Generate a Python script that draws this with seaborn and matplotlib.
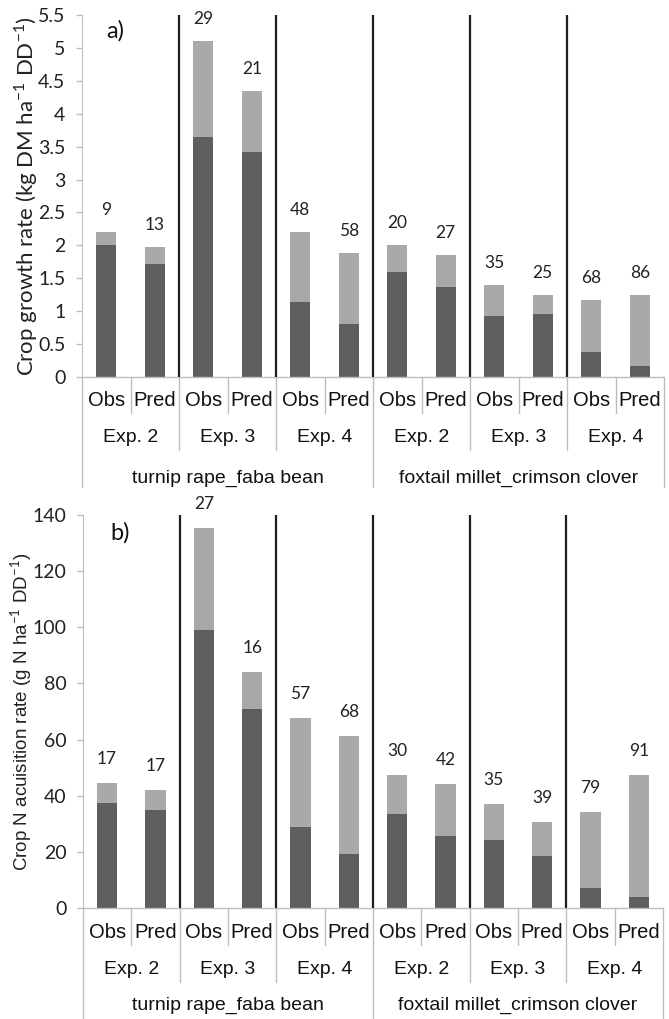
import matplotlib
matplotlib.use("Agg")
import matplotlib.pyplot as plt
import matplotlib.transforms as mtransforms
import pandas as pd
import seaborn as sns

# category levels
species = ["turnip rape_faba bean", "foxtail millet_crimson clover"]
experiments = ["Exp. 2", "Exp. 3", "Exp. 4"]
kinds = ["Obs", "Pred"]

# a) crop growth rate (kg DM ha-1 DD-1)
growth_total = [2.20, 1.97, 5.10, 4.35, 2.20, 1.89, 2.00, 1.85, 1.40, 1.25, 1.17, 1.25]
growth_dark = [2.00, 1.72, 3.65, 3.42, 1.14, 0.80, 1.59, 1.36, 0.92, 0.95, 0.38, 0.17]
growth_pct = [9, 13, 29, 21, 48, 58, 20, 27, 35, 25, 68, 86]

# b) crop N acquisition rate (g N ha-1 DD-1)
n_total = [44.5, 42.0, 135.5, 84.2, 67.6, 61.3, 47.4, 44.2, 37.1, 30.5, 34.2, 47.4]
n_dark = [37.4, 35.0, 99.0, 70.9, 28.7, 19.2, 33.5, 25.7, 24.1, 18.4, 7.1, 3.8]
n_pct = [17, 17, 27, 16, 57, 68, 30, 42, 35, 39, 79, 91]

keys = [f"{s}|{e}|{k}" for s in species for e in experiments for k in kinds]

DARK = "#5e5e5e"
LIGHT = "#a9a9a9"
AXIS_GRAY = "#bdbdbd"
NUM_FONT = ["Lato", "DejaVu Sans"]
CAT_FONT = ["Liberation Sans", "DejaVu Sans"]

sns.set_style("white")
plt.rcParams["font.family"] = NUM_FONT
plt.rcParams["mathtext.fontset"] = "custom"
plt.rcParams["mathtext.rm"] = "Lato"

fig = plt.figure(figsize=(6.69, 10.19), dpi=100)
W, H = 669, 1019


def make_axes(left, right, top, bottom):
    return fig.add_axes([left / W, (H - bottom) / H, (right - left) / W, (bottom - top) / H])


def panel(ax, total, dark, pct, ymax, ystep, ylabel, ylabel_font, ylabel_size, tag, tag_xy,
          ax_h, rows, seps, lab_off):
    df = pd.DataFrame({"bar": keys, "total": total, "dark": dark})
    sns.barplot(data=df, x="bar", y="total", order=keys, color=LIGHT, saturation=1,
                width=0.42, errorbar=None, ax=ax)
    sns.barplot(data=df, x="bar", y="dark", order=keys, color=DARK, saturation=1,
                width=0.42, errorbar=None, ax=ax)
    for p in ax.patches:
        p.set_edgecolor("none")
    ax.set_xlim(-0.5, len(keys) - 0.5)
    ax.set_ylim(0, ymax)
    ticks = [i * ystep for i in range(int(round(ymax / ystep)) + 1)]
    ax.set_yticks(ticks)
    ax.set_yticklabels([f"{t:g}" for t in ticks], fontsize=14, color="#222222")
    ax.tick_params(axis="y", length=4, width=1, color=AXIS_GRAY, pad=8, left=True)
    ax.set_xticks([])
    ax.set_xlabel("")
    ax.set_ylabel(ylabel, fontsize=ylabel_size, family=ylabel_font, color="#222222")
    for s in ["top", "right", "bottom"]:
        ax.spines[s].set_visible(False)
    ax.spines["left"].set_color(AXIS_GRAY)
    ax.axhline(0, color=AXIS_GRAY, lw=1, clip_on=False)

    # percentage labels above bars
    for i, (t, p) in enumerate(zip(total, pct)):
        ax.annotate(str(p), (i, t), xytext=(0, lab_off), textcoords="offset pixels",
                    ha="center", va="center", fontsize=12.5, color="#222222")

    # black separators between experiments
    for b in [1.5, 3.5, 5.5, 7.5, 9.5]:
        ax.axvline(b, color="#1e1e1e", lw=1.6, ymin=0, ymax=1.0)

    ax.text(tag_xy[0], tag_xy[1], tag, transform=ax.transAxes, fontsize=17,
            ha="center", va="center", color="#111111")

    # multi-level category axis
    tr = mtransforms.blended_transform_factory(ax.transData, ax.transAxes)
    f = lambda px: -px / ax_h
    for i, k in enumerate(keys):
        ax.text(i, f(rows[0]), k.split("|")[2], transform=tr, ha="center", va="center",
                family=CAT_FONT, fontsize=14.5, color="#111111", clip_on=False)
    for j in range(len(species) * len(experiments)):
        ax.text(2 * j + 0.5, f(rows[1]), experiments[j % 3], transform=tr, ha="center",
                va="center", family=CAT_FONT, fontsize=14, color="#111111", clip_on=False)
    for j, s in enumerate(species):
        ax.text(6 * j + 2.5, f(rows[2]), s, transform=tr, ha="center", va="center",
                family=CAT_FONT, fontsize=14, color="#111111", clip_on=False)
    for b in range(len(keys) + 1):
        x = b - 0.5
        depth = seps[0]
        if b % 2 == 0:
            depth = seps[1]
        if b % 6 == 0:
            depth = seps[2]
        ax.plot([x, x], [0, f(depth)], transform=tr, color=AXIS_GRAY, lw=1, clip_on=False)


ax_a = make_axes(82, 664, 15, 377)
panel(ax_a, growth_total, growth_dark, growth_pct, 5.5, 0.5,
      r"Crop growth rate (kg DM ha$^{\mathrm{-1}}$ DD$^{\mathrm{-1}}$)", NUM_FONT, 16,
      "a)", (0.057, 0.956), 362, (23, 60, 101), (36, 73, 110), 22)
ax_a.yaxis.set_label_coords(-0.072, 0.5)

ax_b = make_axes(83, 663, 515, 908)
panel(ax_b, n_total, n_dark, n_pct, 140, 20,
      r"Crop N acuisition rate (g N ha$^{\mathrm{-1}}$ DD$^{\mathrm{-1}}$)", CAT_FONT, 13.5,
      "b)", (0.064, 0.954), 393, (25, 61, 97), (37, 74, 110), 24)
ax_b.yaxis.set_label_coords(-0.085, 0.5)

fig.savefig("out.png", dpi=100, facecolor="white")
